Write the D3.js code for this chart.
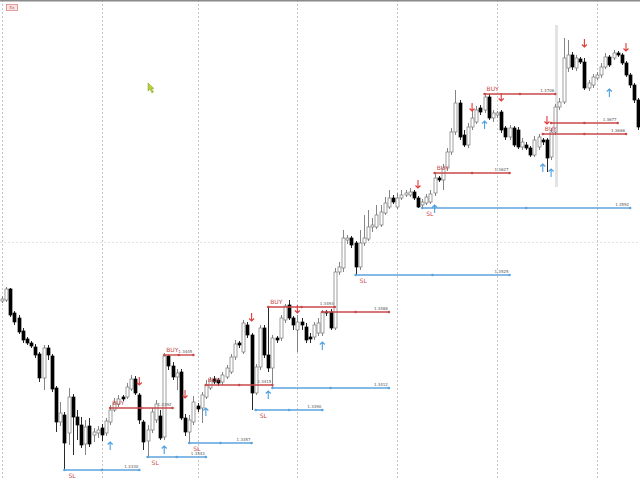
<!DOCTYPE html>
<html>
<head>
<meta charset="utf-8">
<script src="https://cdn.jsdelivr.net/npm/d3@7"></script>
<style>
body { margin: 0; background: #fff; }
svg { display: block; }
</style>
</head>
<body>
<svg id="chart" width="640" height="480"></svg>
<script>
// H1 bars
const open = [1.3499,1.3500,1.3511,1.3487,1.3482,1.3469,1.3461,1.3457,1.3453,1.3446,
  1.3422,1.3452,1.3444,1.3412,1.3378,1.3385,1.3367,1.3403,1.3383,1.3375,
  1.3356,1.3374,1.3365,1.3367,1.3372,1.3367,1.3378,1.3390,1.3396,1.3403,
  1.3403,1.3411,1.3421,1.3405,1.3378,1.3359,1.3370,1.3380,1.3384,1.3363,
  1.3444,1.3434,1.3423,1.3428,1.3382,1.3368,1.3378,1.3394,1.3392,1.3403,
  1.3412,1.3421,1.3420,1.3418,1.3423,1.3428,1.3443,1.3457,1.3448,1.3475,
  1.3465,1.3407,1.3433,1.3472,1.3445,1.3432,1.3462,1.3462,1.3480,1.3495,
  1.3482,1.3470,1.3478,1.3473,1.3463,1.3463,1.3467,1.3467,1.3488,1.3488,
  1.3472,1.3528,1.3532,1.3560,1.3562,1.3557,1.3533,1.3557,1.3561,1.3573,
  1.3573,1.3575,1.3587,1.3593,1.3602,1.3593,1.3602,1.3605,1.3605,1.3608,
  1.3602,1.3595,1.3597,1.3598,1.3607,1.3622,1.3620,1.3632,1.3648,1.3668,
  1.3697,1.3665,1.3655,1.3673,1.3678,1.3692,1.3690,1.3703,1.3682,1.3685,
  1.3688,1.3672,1.3663,1.3672,1.3670,1.3653,1.3655,1.3652,1.3645,1.3653,
  1.3660,1.3660,1.3643,1.3668,1.3693,1.3698,1.3732,1.3745,1.3732,1.3741,
  1.3738,1.3712,1.3715,1.3722,1.3725,1.3733,1.3743,1.3742,1.3747,1.3745,
  1.3737,1.3725,1.3715,1.3700];
const high = [1.3504,1.3513,1.3512,1.3489,1.3485,1.3472,1.3463,1.3459,1.3456,1.3448,
  1.3455,1.3455,1.3446,1.3414,1.3398,1.3388,1.3412,1.3406,1.3390,1.3383,
  1.3380,1.3382,1.3372,1.3374,1.3376,1.3382,1.3395,1.3402,1.3405,1.3405,
  1.3417,1.3425,1.3424,1.3407,1.3380,1.3375,1.3392,1.3400,1.3390,1.3447,
  1.3445,1.3438,1.3431,1.3431,1.3386,1.3385,1.3404,1.3397,1.3408,1.3420,
  1.3423,1.3424,1.3422,1.3428,1.3435,1.3446,1.3460,1.3459,1.3480,1.3478,
  1.3467,1.3436,1.3475,1.3475,1.3493,1.3465,1.3464,1.3485,1.3496,1.3500,
  1.3484,1.3485,1.3482,1.3477,1.3467,1.3478,1.3482,1.3490,1.3490,1.3491,
  1.3532,1.3538,1.3570,1.3565,1.3564,1.3559,1.3570,1.3585,1.3590,1.3582,
  1.3595,1.3595,1.3603,1.3610,1.3605,1.3607,1.3610,1.3610,1.3612,1.3610,
  1.3604,1.3601,1.3606,1.3610,1.3626,1.3624,1.3636,1.3652,1.3672,1.3710,
  1.3700,1.3670,1.3677,1.3690,1.3694,1.3695,1.3707,1.3706,1.3690,1.3689,
  1.3690,1.3674,1.3675,1.3674,1.3673,1.3662,1.3658,1.3654,1.3664,1.3666,
  1.3662,1.3662,1.3672,1.3696,1.3702,1.3762,1.3760,1.3748,1.3745,1.3743,
  1.3742,1.3720,1.3726,1.3728,1.3737,1.3747,1.3745,1.3750,1.3749,1.3747,
  1.3739,1.3727,1.3717,1.3702];
const low = [1.3497,1.3498,1.3483,1.3475,1.3466,1.3457,1.3455,1.3452,1.3442,1.3418,
  1.3410,1.3440,1.3408,1.3368,1.3374,1.3330,1.3355,1.3345,1.3360,1.3352,
  1.3345,1.3353,1.3358,1.3362,1.3359,1.3364,1.3375,1.3388,1.3393,1.3399,
  1.3401,1.3409,1.3405,1.3376,1.3350,1.3343,1.3367,1.3377,1.3360,1.3360,
  1.3430,1.3420,1.3410,1.3380,1.3364,1.3357,1.3375,1.3388,1.3377,1.3401,
  1.3410,1.3416,1.3414,1.3415,1.3421,1.3426,1.3440,1.3452,1.3446,1.3462,
  1.3390,1.3405,1.3430,1.3442,1.3428,1.3412,1.3457,1.3459,1.3477,1.3480,
  1.3470,1.3448,1.3470,1.3457,1.3457,1.3460,1.3464,1.3464,1.3484,1.3470,
  1.3470,1.3525,1.3528,1.3556,1.3552,1.3525,1.3530,1.3554,1.3559,1.3568,
  1.3571,1.3573,1.3585,1.3591,1.3596,1.3591,1.3600,1.3603,1.3603,1.3600,
  1.3592,1.3592,1.3595,1.3596,1.3604,1.3618,1.3610,1.3629,1.3645,1.3665,
  1.3660,1.3653,1.3652,1.3670,1.3676,1.3685,1.3687,1.3680,1.3678,1.3682,
  1.3667,1.3660,1.3660,1.3653,1.3651,1.3650,1.3650,1.3643,1.3643,1.3650,
  1.3655,1.3628,1.3640,1.3665,1.3690,1.3696,1.3728,1.3730,1.3729,1.3736,
  1.3710,1.3709,1.3712,1.3720,1.3722,1.3731,1.3733,1.3740,1.3743,1.3735,
  1.3723,1.3712,1.3697,1.3670];
const close = [1.3501,1.3511,1.3485,1.3478,1.3468,1.3460,1.3457,1.3454,1.3445,1.3422,
  1.3452,1.3445,1.3411,1.3378,1.3387,1.3357,1.3403,1.3383,1.3375,1.3355,
  1.3373,1.3356,1.3368,1.3370,1.3365,1.3379,1.3390,1.3397,1.3401,1.3401,
  1.3413,1.3421,1.3407,1.3380,1.3358,1.3370,1.3388,1.3396,1.3362,1.3444,
  1.3434,1.3423,1.3427,1.3382,1.3368,1.3380,1.3398,1.3391,1.3405,1.3415,
  1.3420,1.3418,1.3417,1.3425,1.3432,1.3443,1.3456,1.3455,1.3477,1.3465,
  1.3407,1.3433,1.3472,1.3445,1.3432,1.3462,1.3460,1.3482,1.3494,1.3482,
  1.3475,1.3478,1.3475,1.3460,1.3461,1.3475,1.3477,1.3488,1.3487,1.3472,
  1.3528,1.3533,1.3562,1.3562,1.3555,1.3533,1.3557,1.3562,1.3573,1.3575,
  1.3585,1.3588,1.3597,1.3602,1.3598,1.3602,1.3605,1.3607,1.3608,1.3602,
  1.3593,1.3598,1.3603,1.3606,1.3622,1.3620,1.3632,1.3648,1.3668,1.3697,
  1.3663,1.3655,1.3673,1.3682,1.3690,1.3688,1.3703,1.3682,1.3687,1.3687,
  1.3670,1.3663,1.3672,1.3655,1.3653,1.3658,1.3652,1.3645,1.3660,1.3663,
  1.3658,1.3642,1.3668,1.3693,1.3698,1.3742,1.3745,1.3733,1.3742,1.3738,
  1.3712,1.3717,1.3723,1.3725,1.3733,1.3743,1.3735,1.3747,1.3745,1.3737,
  1.3725,1.3715,1.3700,1.3673];

// day separators (bar index) and the one visible price grid level
const gridBars = [0, 24, 47, 71, 95, 119, 143];
const gridPrices = [1.3558];

// buy order lines
const buyFrom  = [26, 39, 49, 64, 77, 104, 116, 132, 130];
const buyTo    = [41, 46, 65, 80, 93, 122, 133, 148, 150];
const buyPrice = [1.3392, 1.3445, 1.3415, 1.3493, 1.3488, 1.3627, 1.3706, 1.3677, 1.3666];
const buyTag   = ["BUY", "BUY", "BUY", "BUY", "", "BUY", "BUY", "", "BUY"];

// stop loss lines
const slFrom  = [15, 35, 45, 61, 65, 85, 101];
const slTo    = [33, 49, 60, 77, 93, 122, 151];
const slPrice = [1.3330, 1.3343, 1.3357, 1.3390, 1.3412, 1.3525, 1.3592];
const slTag   = ["SL", "SL", "SL", "SL", "", "SL", "SL"];

// signal arrows
const downBars  = [33, 44, 60, 71, 100, 113, 120, 131, 140, 150];
const downPrice = [1.3419, 1.3406, 1.3483, 1.3491, 1.3616, 1.3693, 1.3703, 1.3680, 1.3757, 1.3753];
const upBars    = [26, 39, 49, 64, 77, 104, 116, 130, 132, 146];
const upPrice   = [1.3354, 1.3350, 1.3388, 1.3405, 1.3454, 1.3591, 1.3675, 1.3632, 1.3627, 1.3707];

// highlighted bar
const markBar = [133.3];
const markHigh = [1.3775];
const markLow = [1.3613];

const width = 640, height = 480;
const svg = d3.select("#chart");

const x = d3.scaleLinear().domain([0, 154]).range([2, 2 + 4.16 * 154]);
const y = d3.scaleLinear().domain([1.3320, 1.3800]).range([height, 0]);

const fmt = d3.format(".4f");
const red = "#c94848", blue = "#5ba3dc";

// grid
svg.append("g")
    .selectAll("line")
    .data(gridBars).enter()
    .append("line")
    .attr("x1", d => Math.round(x(d)) + 0.5)
    .attr("x2", d => Math.round(x(d)) + 0.5)
    .attr("y1", 0).attr("y2", height)
    .attr("stroke", "#c4c4c4")
    .attr("stroke-dasharray", "2,2");

svg.append("g")
    .selectAll("line")
    .data(gridPrices).enter()
    .append("line")
    .attr("x1", 0).attr("x2", width)
    .attr("y1", d => Math.round(y(d)) + 0.5)
    .attr("y2", d => Math.round(y(d)) + 0.5)
    .attr("stroke", "#e2e2e2")
    .attr("stroke-dasharray", "2,2");

// top frame
svg.append("line")
    .attr("x1", 0).attr("x2", width)
    .attr("y1", 0.5).attr("y2", 0.5)
    .attr("stroke", "#8a8a8a").attr("stroke-width", 2);

// highlighted bar
svg.append("g")
    .selectAll("rect")
    .data(markBar).enter()
    .append("rect")
    .attr("x", d => x(d) - 1.5)
    .attr("width", 3)
    .attr("y", (d, i) => y(markHigh[i]))
    .attr("height", (d, i) => y(markLow[i]) - y(markHigh[i]))
    .attr("fill", "#e3e3e3");

// candles
const bars = d3.range(open.length);
const candle = svg.append("g")
    .selectAll("g")
    .data(bars).enter()
    .append("g");

candle.append("line")
    .attr("x1", i => Math.round(x(i)) + 0.5)
    .attr("x2", i => Math.round(x(i)) + 0.5)
    .attr("y1", i => y(high[i]))
    .attr("y2", i => y(low[i]))
    .attr("stroke", i => close[i] >= open[i] ? "#777" : "#111")
    .attr("stroke-width", 0.9);

candle.append("rect")
    .attr("x", i => Math.round(x(i)) - 1)
    .attr("width", 3)
    .attr("y", i => y(Math.max(open[i], close[i])))
    .attr("height", i => Math.max(1, Math.abs(y(open[i]) - y(close[i]))))
    .attr("fill", i => close[i] >= open[i] ? "#fff" : "#000")
    .attr("stroke", i => close[i] >= open[i] ? "#777" : "#000")
    .attr("stroke-width", 0.7);

// order lines
function levelLines(from, to, price, tag, color, tagBelow) {
    const g = svg.append("g");
    const idx = d3.range(from.length);
    g.selectAll("line")
        .data(idx).enter()
        .append("line")
        .attr("x1", i => x(from[i]))
        .attr("x2", i => x(to[i]))
        .attr("y1", i => y(price[i]))
        .attr("y2", i => y(price[i]))
        .attr("stroke", color)
        .attr("stroke-width", 1.4);
    idx.forEach(i => {
        [from[i], (from[i] + to[i]) / 2, to[i]].forEach(b => {
            g.append("circle")
                .attr("cx", x(b)).attr("cy", y(price[i]))
                .attr("r", 1.3).attr("fill", color);
        });
    });
    g.selectAll("text.price")
        .data(idx).enter()
        .append("text")
        .attr("class", "price")
        .attr("x", i => x(to[i]) - 1)
        .attr("y", i => y(price[i]) - 2)
        .attr("text-anchor", "end")
        .attr("font-family", "DejaVu Sans, sans-serif")
        .attr("font-size", 4)
        .attr("fill", "#555")
        .text(i => fmt(price[i]));
    g.selectAll("text.tag")
        .data(idx.filter(i => tag[i])).enter()
        .append("text")
        .attr("class", "tag")
        .attr("x", i => x(from[i]) + (tagBelow ? 4 : 2))
        .attr("y", i => y(price[i]) + (tagBelow ? 7.5 : -3))
        .attr("font-family", "DejaVu Sans, sans-serif")
        .attr("font-size", 6)
        .attr("fill", red)
        .text(i => tag[i]);
}
levelLines(slFrom, slTo, slPrice, slTag, blue, true);
levelLines(buyFrom, buyTo, buyPrice, buyTag, red, false);

// arrows
function arrows(bars, prices, color, dir) {
    svg.append("g")
        .attr("fill", "none")
        .attr("stroke", color)
        .attr("stroke-width", 1.1)
        .selectAll("path")
        .data(d3.range(bars.length)).enter()
        .append("path")
        .attr("d", i => {
            const cx = x(bars[i]), cy = y(prices[i]);
            const tip = cy + 4 * dir;
            return `M${cx},${cy - 4 * dir}L${cx},${tip}M${cx - 2.5},${tip - 2.5 * dir}L${cx},${tip}L${cx + 2.5},${tip - 2.5 * dir}`;
        });
}
arrows(downBars, downPrice, "#e03a3a", 1);
arrows(upBars, upPrice, "#4b9fe0", -1);

// little button top left
svg.append("rect")
    .attr("x", 6.5).attr("y", 4.5).attr("width", 11).attr("height", 6)
    .attr("fill", "#fbe4e4").attr("stroke", "#d98484").attr("stroke-width", 0.8);
svg.append("text")
    .attr("x", 12).attr("y", 9.3)
    .attr("text-anchor", "middle")
    .attr("font-family", "DejaVu Sans, sans-serif")
    .attr("font-size", 4)
    .attr("fill", "#c05050")
    .text("Ex");

// mouse pointer
svg.append("path")
    .attr("d", "M148,83L148,91L150,89L152,93L153.5,92L151.5,88.5L154,88.5Z")
    .attr("fill", "#b8d23a")
    .attr("stroke", "#7a9a20")
    .attr("stroke-width", 0.5);
</script>
</body>
</html>
